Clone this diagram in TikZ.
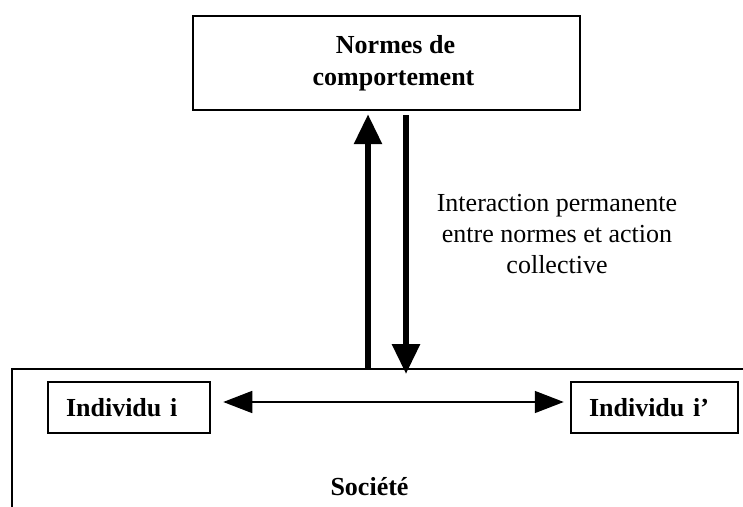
\documentclass[tikz,border=0pt]{standalone}
\usepackage{fontspec}
\setmainfont{Liberation Serif}
\usetikzlibrary{arrows.meta}
\tikzset{every path/.style={black, line width=1.25pt},
  normbox/.style={draw, minimum width=193.5pt, minimum height=47pt, align=center, inner sep=0pt,
    font=\fontsize{13pt}{16pt}\selectfont\bfseries},
  indbox/.style={draw, minimum height=25.5pt, inner xsep=9pt, inner ysep=0pt, align=left,
    font=\fontsize{13pt}{16pt}\selectfont\bfseries},
  bigarrow/.style={line width=3pt, -{Triangle[length=15pt, width=13.5pt]}},
  smallarrow/.style={line width=0.8pt, {Triangle[length=14.5pt, width=11pt]}-{Triangle[length=14.5pt, width=11pt]}}}

\begin{document}
\begin{tikzpicture}[x=0.5pt, y=-0.5pt]
   \useasboundingbox (0,0) rectangle (743,507);
   \node[normbox] (norms) at (386.5,63) {\hspace*{9pt}Normes de\\\hspace*{7pt}comportement};
   \coordinate (soc) at (12,369);
   \draw (743,369) -- (soc) -- (12,507);
   \node[indbox, text width=63pt]   (ind1) at (129,407.5) {Individu i};
   \node[indbox, text width=65.5pt] (ind2) at (654.5,407.5) {Individu i'};
   \node[font=\fontsize{13pt}{15.5pt}\selectfont, align=center, inner sep=0pt] (inter) at (557,234.5)
     {Interaction permanente\\entre normes et action\\collective};
   \node[font=\fontsize{13pt}{16pt}\selectfont\bfseries, anchor=base] (societe) at (369.5,495) {Société};
   \draw[bigarrow] ([xshift=-9.25pt]norms.south |- soc) -- ([xshift=-9.25pt,yshift=-1.5pt]norms.south);
   \draw[bigarrow] ([xshift=9.75pt,yshift=-2pt]norms.south) -- ([xshift=9.75pt,yshift=-2.5pt]norms.south |- soc);
   \draw[smallarrow] ([xshift=6pt,yshift=2.75pt]ind1.east) -- ([xshift=-3pt,yshift=2.75pt]ind2.west);
\end{tikzpicture}
\end{document}
